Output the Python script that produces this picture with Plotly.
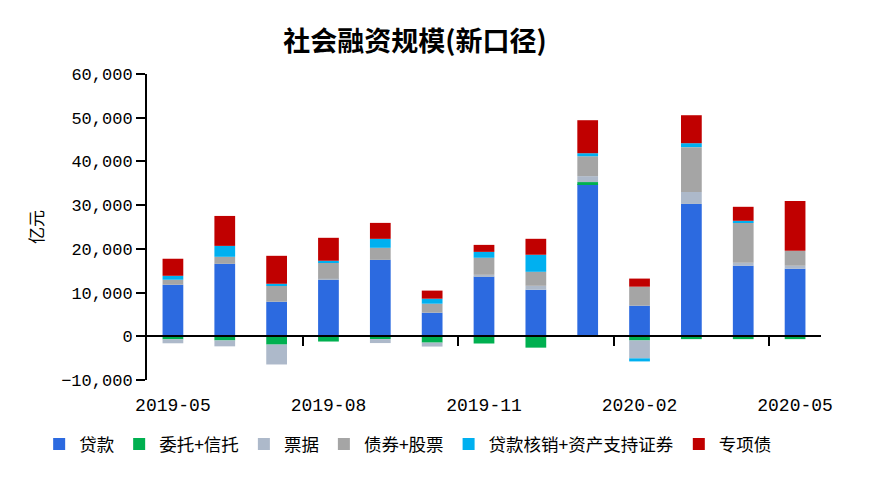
import plotly.graph_objects as go

months = ["2019-05", "2019-06", "2019-07", "2019-08", "2019-09", "2019-10", "2019-11",
          "2019-12", "2020-01", "2020-02", "2020-03", "2020-04", "2020-05"]
loans = [11790, 16580, 7910, 12930, 17490, 5400, 13610, 10650, 34830, 7000, 30270, 16120, 15440]
trust = [-700, -950, -1900, -1200, -650, -1450, -1650, -2600, 450, -950, -650, -650, -650]
bills = [-900, -1350, -4550, 250, -900, -900, 450, 900, 1350, -4100, 2750, 700, 700]
bonds = [1150, 1600, 3650, 3650, 2750, 2050, 3900, 3200, 4550, 4350, 10250, 9150, 3400]
abs_wo = [900, 2500, 450, 450, 2050, 1150, 1350, 3900, 700, -700, 900, 450, 0]
special = [3900, 6850, 6400, 5250, 3650, 1850, 1600, 3650, 7550, 1850, 6400, 3200, 11400]

series = [
    ("贷款", loans, "#2C6AE0"),
    ("委托+信托", trust, "#00B050"),
    ("票据", bills, "#ADB9CA"),
    ("债券+股票", bonds, "#A5A5A5"),
    ("贷款核销+资产支持证券", abs_wo, "#00B0F0"),
    ("专项债", special, "#C00000"),
]

xpos = list(range(len(months)))
label_idx = xpos[::3]
boundary_ticks = [i - 0.5 for i in label_idx[1:]]  # between every third category

CJK = "Noto Sans CJK SC"
NUM = "Liberation Mono"
OFF = 8  # page body margin

fig = go.Figure()
for name, vals, color in series:
    fig.add_trace(go.Bar(x=xpos, y=vals, name=name, marker_color=color,
                         marker_line_width=0, width=0.4))

# invisible helper so the zero-line axis is rendered
fig.add_trace(go.Scatter(x=[xpos[0]], y=[0], xaxis="x2", mode="markers",
                         marker=dict(opacity=0), showlegend=False, hoverinfo="skip"))

fig.update_layout(
    width=876, height=486,
    margin=dict(l=147 - OFF, r=55 + OFF, t=74 - OFF, b=106 + OFF),
    paper_bgcolor="white", plot_bgcolor="white",
    barmode="relative",
    title=dict(text="<b>社会融资规模(新口径)</b>", x=(415 - OFF) / 876, xref="container",
               xanchor="center", y=1 - (42 - OFF) / 486, yref="container", yanchor="middle",
               font=dict(family=CJK, size=27, color="black")),
    xaxis=dict(range=[-0.5, len(months) - 0.5], tickmode="array", tickvals=label_idx,
               ticktext=[months[i] for i in label_idx], showline=False, ticks="",
               ticklabelstandoff=12,
               showgrid=False, zeroline=False,
               tickfont=dict(family=NUM, size=18, color="black")),
    xaxis2=dict(overlaying="x", matches="x", anchor="free", position=1 / 7, side="bottom",
                showline=True, linecolor="black", linewidth=2,
                tickmode="array", tickvals=boundary_ticks, ticks="outside",
                ticklen=9, tickwidth=2, tickcolor="black", showticklabels=False,
                showgrid=False, zeroline=False),
    yaxis=dict(range=[-10000, 60000], tickmode="linear", tick0=0, dtick=10000,
               tickformat=",", showline=True, linecolor="black", linewidth=2,
               ticks="outside", ticklen=9, tickwidth=2, tickcolor="black",
               showgrid=False, zeroline=False,
               tickfont=dict(family=NUM, size=17, color="black")),
    legend=dict(orientation="h", x=-0.16, xanchor="left", y=-0.151, yanchor="top",
                font=dict(family=CJK, size=17.5, color="black"),
                itemclick=False, bgcolor="rgba(0,0,0,0)"),
    annotations=[dict(text="亿元", xref="paper", yref="paper", x=-0.166, y=0.5,
                      xanchor="center", yanchor="middle",
                      textangle=-90, showarrow=False,
                      font=dict(family=CJK, size=17, color="black"))],
)

fig.write_html("out.html")
